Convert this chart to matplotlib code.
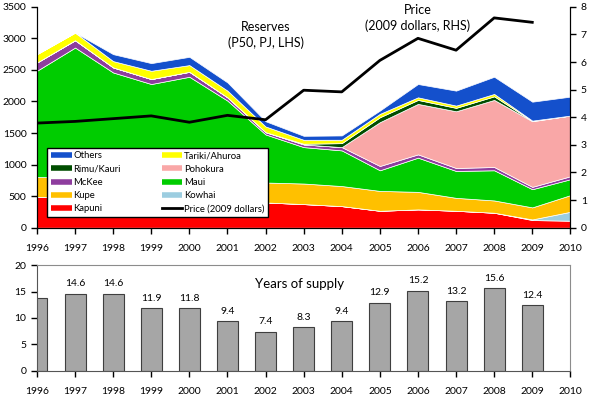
import numpy as np
import matplotlib
matplotlib.use("Agg")
import matplotlib.pyplot as plt
from matplotlib.lines import Line2D

plt.rcParams['font.family'] = ['Lato', 'DejaVu Sans']

# reserves by field, PJ (P50)
years = np.arange(1996, 2011)
kapuni = [489, 480, 470, 455, 440, 420, 400, 374, 342, 268, 290, 268, 237, 121, 110]
kowhai = [0, 0, 0, 0, 0, 0, 0, 0, 0, 0, 0, 0, 0, 10, 142]
kupe = [315, 315, 315, 315, 315, 315, 316, 326, 318, 315, 278, 205, 195, 191, 264]
maui = [1683, 2060, 1675, 1507, 1637, 1279, 762, 577, 565, 327, 542, 426, 478, 288, 252]
mckee = [131, 116, 80, 79, 79, 52, 36, 43, 52, 68, 52, 47, 52, 37, 47]
pohokura = [0, 0, 0, 0, 0, 0, 0, 0, 0, 694, 800, 899, 1063, 1040, 962]
rimu = [0, 0, 0, 0, 0, 0, 0, 10, 63, 78, 63, 54, 57, 5, 0]
tariki = [132, 120, 100, 131, 106, 106, 90, 63, 54, 54, 41, 36, 38, 5, 0]
others = [0, 0, 110, 121, 131, 130, 83, 63, 68, 52, 211, 237, 272, 300, 300]

# price, 2009 dollars (RHS)
price_years = np.arange(1996, 2010)
price = [3.79, 3.85, 3.95, 4.05, 3.82, 4.07, 3.91, 4.98, 4.92, 6.06, 6.86, 6.43, 7.6, 7.44]

# years of supply
supply = [13.8, 14.6, 14.6, 11.9, 11.8, 9.4, 7.4, 8.3, 9.4, 12.9, 15.2, 13.2, 15.6, 12.4]

layers = [kapuni, kowhai, kupe, maui, mckee, pohokura, rimu, tariki, others]
names = ['Kapuni', 'Kowhai', 'Kupe', 'Maui', 'McKee', 'Pohokura', 'Rimu/Kauri',
         'Tariki/Ahuroa', 'Others']
colors = ['#ff0000', '#9ccde0', '#ffc000', '#00cc00', '#8e3d9e', '#f9a7a7',
          '#004d00', '#ffff00', '#1450cc']

fig = plt.figure(figsize=(5.96, 4.03), dpi=100)
ax = fig.add_axes([0.062, 0.435, 0.895, 0.548])
ax.stackplot(years, *layers, colors=colors, edgecolor='white', linewidth=0.5)
ax.set_xlim(1996, 2010)
ax.set_ylim(0, 3500)
ax.set_yticks(range(0, 3501, 500))
ax.set_xticks(years)
ax.tick_params(labelsize=7.5, direction='out', length=4, width=1)
ax.spines['top'].set_visible(False)
ax.tick_params(axis='x', pad=8)

ax2 = ax.twinx()
ax2.plot(price_years, price, color='black', lw=2)
ax2.set_ylim(0, 8)
ax2.set_yticks(range(0, 9))
ax2.tick_params(labelsize=7.5, direction='out', length=4, width=1)
ax2.spines['top'].set_visible(False)

ax.text(2002.0, 3050, 'Reserves\n(P50, PJ, LHS)', ha='center', va='center',
        fontsize=9, linespacing=1.3)
ax2.text(2006.0, 7.6, 'Price\n(2009 dollars, RHS)', ha='center', va='center',
         fontsize=9, linespacing=1.3)

handles = {n: Line2D([], [], color=c, lw=4, solid_capstyle='butt')
           for n, c in zip(names, colors)}
price_h = Line2D([], [], color='black', lw=2)
order = ['Others', 'Rimu/Kauri', 'McKee', 'Kupe', 'Kapuni',
         'Tariki/Ahuroa', 'Pohokura', 'Maui', 'Kowhai']
hs = [handles[n] for n in order] + [price_h]
ls = order + ['Price (2009 dollars)']
leg = ax2.legend(hs, ls, ncol=2, loc='lower left', bbox_to_anchor=(0.019, 0.048, 0.415, 0.309),
                 mode='expand', fontsize=6.8, frameon=True, fancybox=False,
                 edgecolor='black', framealpha=1, borderaxespad=0, handlelength=2.2,
                 handletextpad=0.2, labelspacing=0.45, columnspacing=1.0, borderpad=0.4)
leg.get_frame().set_linewidth(1)

# years of supply
bx = fig.add_axes([0.062, 0.080, 0.895, 0.262])
bx.bar(price_years, supply, width=0.55, color='#a6a6a6', edgecolor='#3f3f3f', linewidth=0.8)
for x, v in zip(price_years[1:], supply[1:]):
    bx.text(x, v + 1.0, f'{v:.1f}', ha='center', va='bottom', fontsize=7.5)
bx.set_xlim(1996, 2010)
bx.set_ylim(0, 20)
bx.set_yticks(range(0, 21, 5))
bx.set_xticks(years)
bx.tick_params(labelsize=7.5, direction='out', length=4, width=1)
bx.tick_params(axis='x', pad=8)
for s in ['top', 'right']:
    bx.spines[s].set_color('#8c8c8c')
for s in ['left', 'bottom']:
    bx.spines[s].set_color('#555555')
bx.text(2002.9, 16.4, 'Years of supply', ha='center', va='center', fontsize=9.5)

fig.savefig('out.png', dpi=100)
